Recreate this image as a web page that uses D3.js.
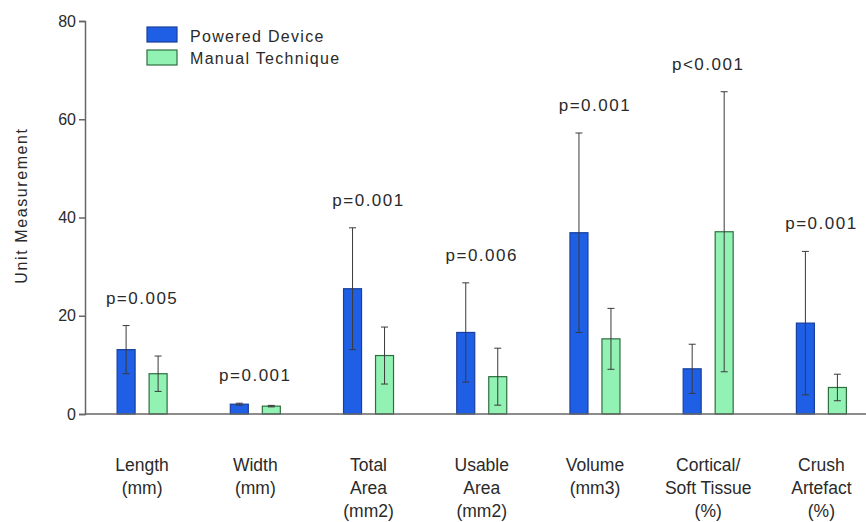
<!DOCTYPE html>
<html>
<head>
<meta charset="utf-8">
<script src="https://cdn.jsdelivr.net/npm/d3@7"></script>
<style>
  body { margin: 0; background: #fff; }
  svg { display: block; font-family: Arial, "Liberation Sans", sans-serif; }
</style>
</head>
<body>
<svg id="chart" width="866" height="522"></svg>
<script>
// ---- data ----
const categories = [
  ["Length", "(mm)"],
  ["Width", "(mm)"],
  ["Total", "Area", "(mm2)"],
  ["Usable", "Area", "(mm2)"],
  ["Volume", "(mm3)"],
  ["Cortical/", "Soft Tissue", "(%)"],
  ["Crush", "Artefact", "(%)"]
];
const seriesNames = ["Powered Device", "Manual Technique"];
const poweredMean = [13.1, 2.0, 25.5, 16.6, 36.9, 9.2, 18.5];
const poweredSD   = [4.9, 0.2, 12.4, 10.1, 20.3, 5.0, 14.6];
const manualMean  = [8.2, 1.6, 11.9, 7.6, 15.3, 37.1, 5.4];
const manualSD    = [3.6, 0.15, 5.8, 5.8, 6.2, 28.5, 2.7];
const pValues = ["p=0.005", "p=0.001", "p=0.001", "p=0.006", "p=0.001", "p<0.001", "p=0.001"];
const yTicks = [0, 20, 40, 60, 80];

const colors = {
  "Powered Device":   { fill: "#1f5fe6", stroke: "#1a3f9c" },
  "Manual Technique": { fill: "#92f2b4", stroke: "#2e6e40" }
};

const svg = d3.select("#chart");
const catKeys = categories.map(c => c.join(" "));

const x0 = d3.scaleBand().domain(catKeys).range([85.5, 878]).paddingInner(0).paddingOuter(0);
const x1 = d3.scalePoint().domain(seriesNames).range([-16, 16]);
const barW = 18;
const y = d3.scaleLinear().domain([0, 80]).range([414, 21]);

const rows = catKeys.map((k, i) => ({
  key: k, lines: categories[i], p: pValues[i],
  vals: [
    { s: seriesNames[0], m: poweredMean[i], sd: poweredSD[i] },
    { s: seriesNames[1], m: manualMean[i], sd: manualSD[i] }
  ]
}));

// bars
const g = svg.append("g");
rows.forEach(r => {
  const cx = x0(r.key) + x0.bandwidth() / 2;
  r.vals.forEach(v => {
    const bx = cx + x1(v.s);
    g.append("rect")
      .attr("x", bx - barW / 2).attr("width", barW)
      .attr("y", y(v.m)).attr("height", y(0) - y(v.m))
      .attr("fill", colors[v.s].fill)
      .attr("stroke", colors[v.s].stroke).attr("stroke-width", 1.2);
    // error bar
    const lo = Math.max(0, v.m - v.sd), hi = v.m + v.sd;
    const eb = g.append("g").attr("stroke", "#3a3a3a").attr("stroke-width", 1);
    eb.append("line").attr("x1", bx).attr("x2", bx).attr("y1", y(lo)).attr("y2", y(hi));
    eb.append("line").attr("x1", bx - 3.5).attr("x2", bx + 3.5).attr("y1", y(hi)).attr("y2", y(hi));
    eb.append("line").attr("x1", bx - 3.5).attr("x2", bx + 3.5).attr("y1", y(lo)).attr("y2", y(lo));
  });
  // p-value label
  const top = d3.max(r.vals, v => v.m + v.sd);
  svg.append("text")
    .attr("x", cx).attr("y", y(top) - 22)
    .attr("text-anchor", "middle")
    .attr("font-size", 17).attr("letter-spacing", 1.5)
    .attr("fill", "#2a2a2a")
    .text(r.p);
  // category label
  const t = svg.append("text")
    .attr("text-anchor", "middle")
    .attr("font-size", 17.5).attr("fill", "#2a2a2a");
  r.lines.forEach((ln, j) => {
    t.append("tspan").attr("x", cx).attr("y", 471 + j * 23).text(ln);
  });
});

// y axis
const yAxis = svg.append("g")
  .attr("transform", "translate(85,0)")
  .call(d3.axisLeft(y).tickValues(yTicks).tickSize(6).tickPadding(3).tickFormat(d3.format("d")));
yAxis.select(".domain").attr("stroke", "#666").attr("stroke-width", 1.5);
yAxis.selectAll(".tick line").attr("stroke", "#666").attr("stroke-width", 1.5);
yAxis.selectAll(".tick text").attr("font-size", 16).attr("fill", "#2a2a2a")
  .attr("font-family", "Arial, 'Liberation Sans', sans-serif");

// x baseline
svg.append("line")
  .attr("x1", 85).attr("x2", 866)
  .attr("y1", y(0)).attr("y2", y(0))
  .attr("stroke", "#666").attr("stroke-width", 1.5);

// y title
svg.append("text")
  .attr("transform", `translate(27,${(y(0) + y(80)) / 2 - 12}) rotate(-90)`)
  .attr("text-anchor", "middle")
  .attr("font-size", 16).attr("letter-spacing", 1.6).attr("fill", "#2a2a2a")
  .text("Unit Measurement");

// legend
const leg = svg.append("g");
seriesNames.forEach((s, i) => {
  leg.append("rect")
    .attr("x", 147).attr("y", 27 + i * 23).attr("width", 30).attr("height", 15)
    .attr("fill", colors[s].fill).attr("stroke", colors[s].stroke).attr("stroke-width", 1.2);
  leg.append("text")
    .attr("x", 190).attr("y", 41.5 + i * 22)
    .attr("font-size", 16).attr("letter-spacing", 1.3).attr("fill", "#2a2a2a")
    .text(s);
});
</script>
</body>
</html>
